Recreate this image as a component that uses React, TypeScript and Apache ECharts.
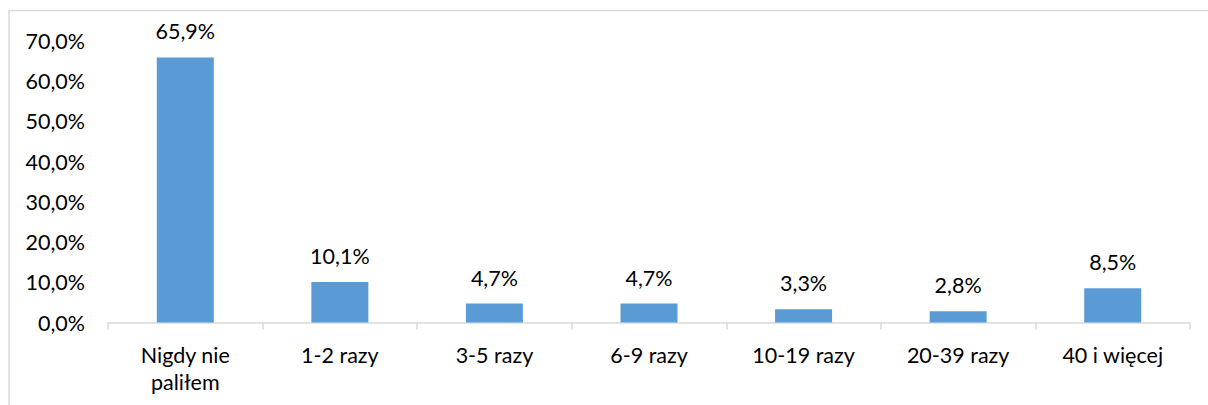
import React, { useEffect, useRef } from "react";
import * as echarts from "echarts";

const categories = ["Nigdy nie\npaliłem", "1-2 razy", "3-5 razy", "6-9 razy", "10-19 razy", "20-39 razy", "40 i więcej"];
const values = [65.9, 10.1, 4.7, 4.7, 3.3, 2.8, 8.5];
const yTicks = { min: 0, max: 70, interval: 10 };

const fmt = (v: number) => v.toFixed(1).replace(".", ",") + "%";

export default function App() {
  const ref = useRef<HTMLDivElement>(null);
  useEffect(() => {
    document.body.style.margin = "0";
    const chart = echarts.init(ref.current!, null, { renderer: "svg" });
    const font = "Lato, 'Noto Sans', sans-serif";
    const fs = 21.5;
    chart.setOption({
      animation: false,
      textStyle: { fontFamily: font },
      graphic: [
        {
          type: "rect",
          shape: { x: 9, y: 10.5, width: 1400, height: 600 },
          style: { fill: "none", stroke: "#d9d9d9", lineWidth: 1.5 },
          silent: true,
          z: -1,
        },
      ],
      grid: { left: 108, right: 18, top: 41, bottom: 82.5 },
      xAxis: {
        type: "category",
        data: categories,
        axisLine: { lineStyle: { color: "#d9d9d9", width: 1.5 } },
        axisTick: { show: true, length: 7, lineStyle: { color: "#d9d9d9", width: 1.5 } },
        axisLabel: { color: "#000", fontSize: fs, margin: 19, lineHeight: 27, fontFamily: font, interval: 0 },
      },
      yAxis: {
        type: "value",
        min: yTicks.min,
        max: yTicks.max,
        interval: yTicks.interval,
        splitLine: { show: false },
        axisLine: { show: false },
        axisTick: { show: false },
        axisLabel: { color: "#000", fontSize: fs, margin: 23, fontFamily: font, formatter: (v: number) => fmt(v) },
      },
      series: [
        {
          type: "bar",
          data: values,
          barWidth: 57,
          itemStyle: { color: "#5b9bd5" },
          label: {
            show: true,
            position: "top",
            distance: 15,
            color: "#000",
            fontSize: fs,
            fontFamily: font,
            formatter: (p: any) => fmt(p.value),
          },
        },
      ],
    });
    return () => chart.dispose();
  }, []);
  return <div ref={ref} style={{ width: 1208, height: 405 }} />;
}
